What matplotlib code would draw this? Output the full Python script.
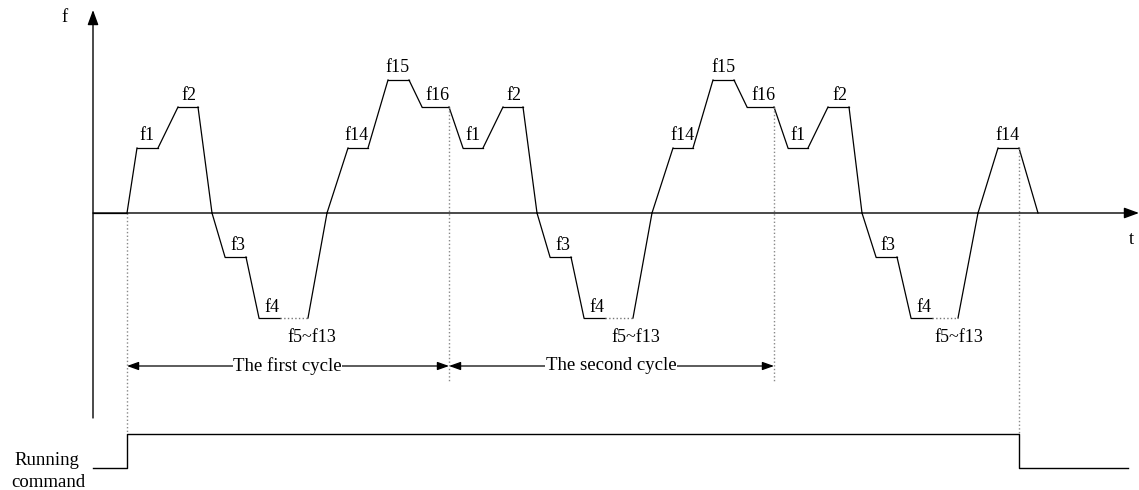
import matplotlib.pyplot as plt

# Frequency profile (t in drawing units, f = 0 on the time axis)
t = [93, 127, 137, 158, 178, 198, 212, 225, 246, 259, 280, 308, 327, 348, 368, 388, 409, 422, 449,
     463, 483, 503, 523, 537, 550, 571, 584, 605, 633, 652, 673, 693, 713, 734, 747, 774,
     788, 808, 828, 849, 862, 876, 897, 911, 932, 958, 978, 998, 1019, 1038]
f = [0, 0, 65, 65, 106, 106, 0, -44, -44, -105, -105, -105, 0, 65, 65, 133, 133, 106, 106,
     65, 65, 106, 106, 0, -44, -44, -105, -105, -105, 0, 65, 65, 133, 133, 106, 106,
     65, 65, 106, 106, 0, -44, -44, -105, -105, -105, 0, 65, 65, 0]
# segments (start index) held at f5~f13, drawn dotted
dotted_segments = [10, 27, 44]

# step labels: text, t, f
step_labels = ["f1", "f2", "f3", "f4", "f5~f13", "f14", "f15", "f16",
               "f1", "f2", "f3", "f4", "f5~f13", "f14", "f15", "f16",
               "f1", "f2", "f3", "f4", "f5~f13", "f14"]
label_t = [147, 189, 238, 272, 312, 356, 397, 437,
           473, 514, 563, 597, 636, 682, 723, 763,
           798, 840, 888, 924, 959, 1007]
label_f = [77, 117, -32, -94, -124, 77, 145, 117,
           77, 117, -32, -94, -124, 77, 145, 117,
           77, 117, -32, -94, -124, 77]

# cycle boundaries
cycle_names = ["The first cycle", "The second cycle"]
cycle_start = [127, 449]
cycle_end = [449, 774]

# running command: t where on / off
run_on, run_off, run_end = 127, 1019, 1128

plt.rcParams['font.family'] = ['Liberation Serif', 'DejaVu Serif']
fig = plt.figure(figsize=(11.39, 4.9), dpi=100)
ax = fig.add_axes([0, 0, 1, 1])
ax.set_xlim(0, 1139)
ax.set_ylim(-277, 213)
ax.axis('off')

# axes with arrows
arrow = dict(arrowstyle='-|>,head_length=0.9,head_width=0.33', color='black',
             lw=1, mutation_scale=10, shrinkA=0, shrinkB=0)
ax.annotate('', xy=(93, 203), xytext=(93, -205), arrowprops=arrow)
ax.annotate('', xy=(1139, 0), xytext=(93, 0), arrowprops=arrow)
ax.text(65, 195, 'f', fontsize=13.5, ha='center', va='center')
ax.text(1131, -27, 't', fontsize=13.5, ha='center', va='center')

# waveform
for i in range(len(t) - 1):
    if i in dotted_segments:
        ax.plot(t[i:i + 2], f[i:i + 2], color='#777777', lw=1, ls=':')
    else:
        ax.plot(t[i:i + 2], f[i:i + 2], color='black', lw=0.9)

for s, x, y in zip(step_labels, label_t, label_f):
    ax.text(x, y, s, fontsize=13, ha='center', va='center')

# dotted guide lines
ax.plot([127, 127], [0, -221], color='#888888', lw=1, ls=':')
ax.plot([449, 449], [106, -169], color='#888888', lw=1, ls=':')
ax.plot([774, 774], [106, -169], color='#888888', lw=1, ls=':')
ax.plot([1019, 1019], [65, -221], color='#888888', lw=1, ls=':')

# cycle arrows
cyc_arrow = dict(arrowstyle='<|-|>,head_length=0.7,head_width=0.25', color='black',
                 lw=0.9, mutation_scale=10, shrinkA=0, shrinkB=0)
for name, a, b in zip(cycle_names, cycle_start, cycle_end):
    ax.annotate('', xy=(b, -153), xytext=(a, -153), arrowprops=cyc_arrow)
    ax.text((a + b) / 2 - 0.5, -153, name, fontsize=13.5, ha='center', va='center',
            bbox=dict(facecolor='white', edgecolor='none', pad=0.3))

# running command signal
ax.plot([93, run_on, run_on, run_off, run_off, run_end],
        [-255, -255, -221, -221, -255, -255], color='black', lw=1)
ax.text(47, -247, 'Running', fontsize=13.5, ha='center', va='center')
ax.text(48, -269, 'command', fontsize=13.5, ha='center', va='center')

fig.savefig('out.png', dpi=100)
